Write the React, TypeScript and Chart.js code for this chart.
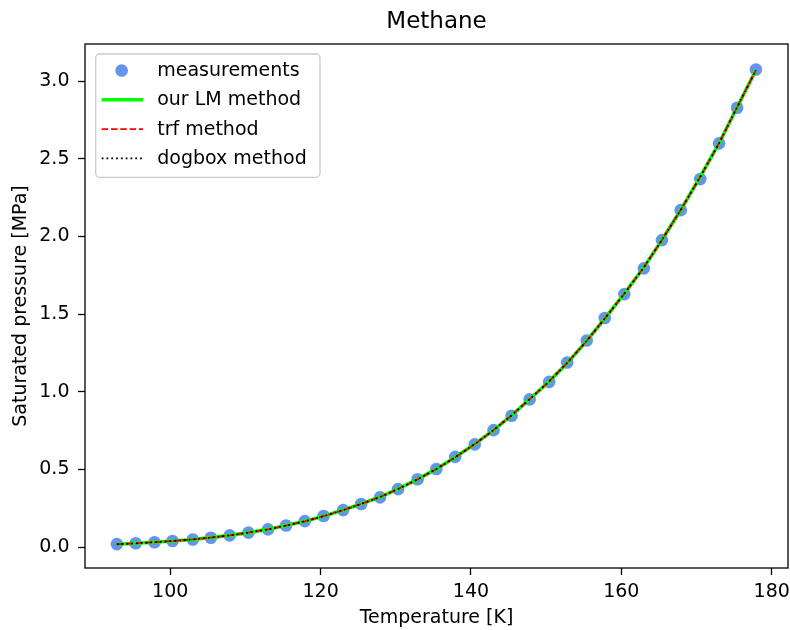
import React, { useEffect, useRef } from "react";
import { Chart, registerables } from "chart.js";

Chart.register(...registerables);

// ---- data ----
const temperatureK = [
  92.9, 95.4, 97.9, 100.3, 103.0, 105.4, 107.9, 110.4, 113.0, 115.4, 117.9, 120.4,
  123.0, 125.4, 127.9, 130.3, 132.9, 135.4, 137.9, 140.5, 143.0, 145.4, 147.8, 150.4,
  152.8, 155.4, 157.8, 160.4, 163.0, 165.4, 167.9, 170.5, 173.0, 175.4, 177.9,
];
const measuredMPa = [
  0.019, 0.024, 0.031, 0.039, 0.049, 0.06, 0.075, 0.093, 0.114, 0.139, 0.167, 0.2,
  0.238, 0.277, 0.32, 0.373, 0.437, 0.503, 0.581, 0.661, 0.753, 0.846, 0.951, 1.064,
  1.189, 1.33, 1.475, 1.629, 1.795, 1.977, 2.17, 2.37, 2.6, 2.829, 3.076,
];
const lmFitMPa = [
  0.018, 0.024, 0.031, 0.039, 0.049, 0.061, 0.075, 0.093, 0.114, 0.138, 0.166, 0.199,
  0.238, 0.278, 0.322, 0.374, 0.436, 0.503, 0.578, 0.663, 0.753, 0.848, 0.952, 1.067,
  1.186, 1.328, 1.472, 1.632, 1.802, 1.978, 2.171, 2.385, 2.601, 2.833, 3.071,
];
const trfFitMPa = lmFitMPa;
const dogboxFitMPa = lmFitMPa;

const xTicks = [100, 120, 140, 160, 180];
const yTicks = [0, 0.5, 1.0, 1.5, 2.0, 2.5, 3.0];

const titleText = "Methane";
const xLabel = "Temperature [K]";
const yLabel = "Saturated pressure [MPa]";
const seriesLabels = ["measurements", "our LM method", "trf method", "dogbox method"];

const FONT = "'DejaVu Sans', sans-serif";

const toPoints = (ys: number[]) => temperatureK.map((t, i) => ({ x: t, y: ys[i] }));

const framePlugin = {
  id: "frame",
  afterDatasetsDraw(chart: any) {
    const { ctx, chartArea } = chart;
    ctx.save();
    ctx.strokeStyle = "#000";
    ctx.lineWidth = 1.3;
    ctx.strokeRect(chartArea.left, chartArea.top, chartArea.right - chartArea.left, chartArea.bottom - chartArea.top);
    ctx.restore();
  },
};

// title centred over the plot area (as matplotlib does)
const axesTitlePlugin = {
  id: "axesTitle",
  afterDraw(chart: any) {
    const { ctx, chartArea } = chart;
    ctx.save();
    ctx.fillStyle = "#000";
    ctx.font = `23px ${FONT}`;
    ctx.textAlign = "center";
    ctx.textBaseline = "middle";
    ctx.fillText(titleText, (chartArea.left + chartArea.right) / 2, chartArea.top - 22);
    ctx.restore();
  },
};

const legendPlugin = {
  id: "mplLegend",
  afterDraw(chart: any) {
    const { ctx, chartArea } = chart;
    const bx = chartArea.left + 10.7;
    const by = chartArea.top + 10;
    const bw = 224.3;
    const bh = 123.3;
    ctx.save();
    ctx.beginPath();
    ctx.roundRect(bx, by, bw, bh, 4);
    ctx.fillStyle = "rgba(255,255,255,0.8)";
    ctx.fill();
    ctx.strokeStyle = "#cccccc";
    ctx.lineWidth = 1.3;
    ctx.stroke();

    const rowStep = 29.3;
    const hx0 = bx + 6;
    const hx1 = bx + 47.3;
    chart.data.datasets.forEach((ds: any, i: number) => {
      const cy = by + 16.5 + i * rowStep;
      if (ds.showLine === false) {
        ctx.beginPath();
        ctx.arc((hx0 + hx1) / 2 - 0.7, cy, ds.pointRadius, 0, Math.PI * 2);
        ctx.fillStyle = ds.pointBackgroundColor;
        ctx.fill();
      } else {
        ctx.beginPath();
        ctx.setLineDash(ds.borderDash || []);
        ctx.lineWidth = ds.borderWidth;
        ctx.strokeStyle = ds.borderColor;
        ctx.moveTo(hx0, cy);
        ctx.lineTo(hx1, cy);
        ctx.stroke();
        ctx.setLineDash([]);
      }
      ctx.fillStyle = "#000";
      ctx.font = `19px ${FONT}`;
      ctx.textBaseline = "middle";
      ctx.textAlign = "left";
      ctx.fillText(ds.label, bx + 61.5, cy + 0.5);
    });
    ctx.restore();
  },
};

export default function App() {
  const canvasRef = useRef<HTMLCanvasElement | null>(null);

  useEffect(() => {
    if (!canvasRef.current) return;
    Chart.defaults.font.family = FONT;
    const tickFont = { family: FONT, size: 19 };
    const chart = new Chart(canvasRef.current, {
      type: "scatter",
      data: {
        datasets: [
          {
            label: seriesLabels[0],
            data: toPoints(measuredMPa),
            showLine: false,
            pointRadius: 6.3,
            pointHoverRadius: 6.3,
            pointBackgroundColor: "#6495ED",
            pointBorderWidth: 0,
            borderColor: "#6495ED",
            order: 4,
          } as any,
          {
            type: "line",
            label: seriesLabels[1],
            data: toPoints(lmFitMPa),
            borderColor: "#00ff00",
            borderWidth: 3.6,
            pointRadius: 0,
            tension: 0,
            fill: false,
            order: 3,
          } as any,
          {
            type: "line",
            label: seriesLabels[2],
            data: toPoints(trfFitMPa),
            borderColor: "#ff0000",
            borderWidth: 1.8,
            borderDash: [6.5, 2.8],
            pointRadius: 0,
            tension: 0,
            fill: false,
            order: 2,
          } as any,
          {
            type: "line",
            label: seriesLabels[3],
            data: toPoints(dogboxFitMPa),
            borderColor: "#000000",
            borderWidth: 1.8,
            borderDash: [1.8, 3.0],
            pointRadius: 0,
            tension: 0,
            fill: false,
            order: 1,
          } as any,
        ],
      },
      options: {
        animation: false,
        responsive: true,
        maintainAspectRatio: false,
        devicePixelRatio: 1,
        layout: { autoPadding: false, padding: { left: 0, right: 2, top: 44, bottom: 0 } },
        plugins: {
          legend: { display: false },
          tooltip: { enabled: false },
          title: { display: false },
        },
        scales: {
          x: {
            type: "linear",
            position: "bottom",
            min: 88.66,
            max: 182.17,
            afterBuildTicks: (s: any) => {
              s.ticks = xTicks.map((v) => ({ value: v }));
            },
            afterFit: (s: any) => {
              s.height = 62;
              s.paddingLeft = 0;
              s.paddingRight = 0;
            },
            ticks: {
              color: "#000",
              font: { family: FONT, size: 19, lineHeight: 34.6 / 19 },
              padding: 0,
              maxRotation: 0,
              autoSkip: false,
              callback: (v: any) => String(v),
            },
            grid: {
              drawOnChartArea: false,
              drawTicks: true,
              tickLength: 7,
              tickWidth: 1.3,
              tickColor: "#000",
            },
            border: { display: false },
            title: {
              display: true,
              text: xLabel,
              color: "#000",
              font: tickFont,
              padding: { top: 0, bottom: 1 },
            },
          },
          y: {
            type: "linear",
            min: -0.135,
            max: 3.24,
            afterBuildTicks: (s: any) => {
              s.ticks = yTicks.map((v) => ({ value: v }));
            },
            afterFit: (s: any) => {
              s.width = 85;
              s.paddingTop = 0;
              s.paddingBottom = 0;
            },
            ticks: {
              color: "#000",
              font: tickFont,
              padding: 8.5,
              autoSkip: false,
              callback: (v: any) => Number(v).toFixed(1),
            },
            grid: {
              drawOnChartArea: false,
              drawTicks: true,
              tickLength: 7,
              tickWidth: 1.3,
              tickColor: "#000",
            },
            border: { display: false },
            title: {
              display: true,
              text: yLabel,
              color: "#000",
              font: tickFont,
              padding: { top: 9.4, bottom: 0 },
            },
          },
        },
      },
      plugins: [framePlugin, axesTitlePlugin, legendPlugin],
    } as any);
    return () => chart.destroy();
  }, []);

  return (
    <div style={{ position: "absolute", left: 0, top: 0, width: 790, height: 630, background: "#fff" }}>
      <canvas ref={canvasRef} />
    </div>
  );
}
